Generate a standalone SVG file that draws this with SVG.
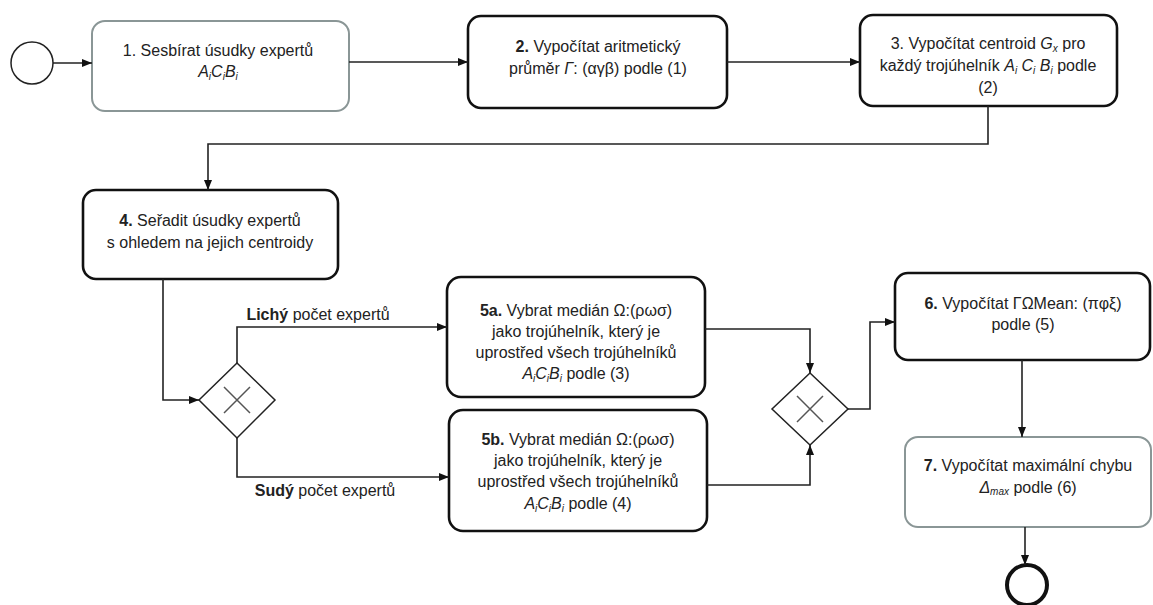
<svg xmlns="http://www.w3.org/2000/svg" width="1153" height="605" viewBox="0 0 1153 605">
<style>
.box{fill:#fff;stroke:#111;stroke-width:2.6}
.gbox{fill:#fff;stroke:#8a9696;stroke-width:2}
.gw{fill:#fff;stroke:#222;stroke-width:1.5}
.gx{stroke:#555;stroke-width:1.5}
.con{fill:none;stroke:#222;stroke-width:1.6}
text{font-family:"Liberation Sans",Arial,sans-serif;font-size:16px;fill:#222;text-anchor:middle}
.b{font-weight:bold}
.i{font-style:italic}
.s{font-size:10px;font-style:italic}
</style>
<defs>
<marker id="arr" markerWidth="10" markerHeight="8" refX="10" refY="4" orient="auto" markerUnits="userSpaceOnUse">
<path d="M0,0 L10,4 L0,8 Z" fill="#111"/>
</marker>
</defs>
<rect width="1153" height="605" fill="#fff"/>
<g id="start"><circle cx="32" cy="63" r="21" fill="#fff" stroke="#222" stroke-width="1.5"/></g>
<g id="n1"><rect class="gbox" x="92" y="21" width="257" height="90" rx="13"/>
<text x="218" y="56">1. Sesbírat úsudky expertů</text>
<text x="218" y="77"><tspan class="i">A</tspan><tspan class="s" dy="3">i</tspan><tspan class="i" dy="-3">C</tspan><tspan class="s" dy="3">i</tspan><tspan class="i" dy="-3">B</tspan><tspan class="s" dy="3">i</tspan></text></g>
<g id="n2"><rect class="box" x="468" y="16" width="259" height="92" rx="13"/>
<text x="598" y="52"><tspan class="b">2.</tspan> Vypočítat aritmetický</text>
<text x="598" y="74">průměr <tspan class="i">Γ</tspan>: (αγβ) podle (1)</text></g>
<g id="n3"><rect class="box" x="860" y="15" width="257" height="91" rx="13"/>
<text x="988" y="49">3. Vypočítat centroid <tspan class="i">G</tspan><tspan class="s" dy="3">x</tspan><tspan dy="-3"> pro</tspan></text>
<text x="988" y="71">každý trojúhelník <tspan class="i">A</tspan><tspan class="s" dy="3">i</tspan><tspan class="i" dy="-3"> C</tspan><tspan class="s" dy="3">i</tspan><tspan class="i" dy="-3"> B</tspan><tspan class="s" dy="3">i</tspan><tspan dy="-3"> podle</tspan></text>
<text x="988" y="93">(2)</text></g>
<g id="n4"><rect class="box" x="83" y="190" width="255" height="89" rx="13"/>
<text x="210" y="226"><tspan class="b">4.</tspan> Seřadit úsudky expertů</text>
<text x="210" y="248">s ohledem na jejich centroidy</text></g>
<g id="gw1"><path class="gw" d="M237,363 L275,400 L237,438 L199,400 Z"/>
<path class="gx" d="M224,387 L250,413 M250,387 L224,413"/></g>
<g id="n5a"><rect class="box" x="447" y="277" width="258" height="120" rx="14"/>
<text x="576" y="316"><tspan class="b">5a.</tspan> Vybrat medián Ω:(ρωσ)</text>
<text x="576" y="337">jako trojúhelník, který je</text>
<text x="576" y="358">uprostřed všech trojúhelníků</text>
<text x="576" y="379"><tspan class="i">A</tspan><tspan class="s" dy="3">i</tspan><tspan class="i" dy="-3">C</tspan><tspan class="s" dy="3">i</tspan><tspan class="i" dy="-3">B</tspan><tspan class="s" dy="3">i</tspan><tspan dy="-3">  podle (3)</tspan></text></g>
<g id="n5b"><rect class="box" x="449" y="410" width="258" height="121" rx="14"/>
<text x="578" y="445"><tspan class="b">5b.</tspan> Vybrat medián Ω:(ρωσ)</text>
<text x="578" y="466">jako trojúhelník, který je</text>
<text x="578" y="487">uprostřed všech trojúhelníků</text>
<text x="578" y="509"><tspan class="i">A</tspan><tspan class="s" dy="3">i</tspan><tspan class="i" dy="-3">C</tspan><tspan class="s" dy="3">i</tspan><tspan class="i" dy="-3">B</tspan><tspan class="s" dy="3">i</tspan><tspan dy="-3">  podle (4)</tspan></text></g>
<g id="gw2"><path class="gw" d="M810,373 L848,409 L810,445 L772,409 Z"/>
<path class="gx" d="M797,396 L823,422 M823,396 L797,422"/></g>
<g id="n6"><rect class="box" x="895" y="273" width="255" height="87" rx="13"/>
<text x="1023" y="309"><tspan class="b">6.</tspan> Vypočítat ΓΩMean: (πφξ)</text>
<text x="1023" y="330">podle (5)</text></g>
<g id="n7"><rect class="gbox" x="905" y="437" width="246" height="90" rx="13"/>
<text x="1028" y="471"><tspan class="b">7.</tspan> Vypočítat maximální chybu</text>
<text x="1028" y="493"><tspan class="i">Δ</tspan><tspan class="s" dy="2">max</tspan><tspan dy="-2"> podle (6)</tspan></text></g>
<g id="end"><circle cx="1027" cy="585" r="20" fill="#fff" stroke="#111" stroke-width="4"/></g>
<g id="connectors">
<path class="con" d="M53,63 H92" marker-end="url(#arr)"/>
<path class="con" d="M349,62 H468" marker-end="url(#arr)"/>
<path class="con" d="M727,62 H860" marker-end="url(#arr)"/>
<path class="con" d="M988,106 V144 H208 V190" marker-end="url(#arr)"/>
<path class="con" d="M163,279 V400 H199" marker-end="url(#arr)"/>
<path class="con" d="M237,363 V327 H447" marker-end="url(#arr)"/>
<path class="con" d="M237,438 V477 H449" marker-end="url(#arr)"/>
<path class="con" d="M705,329 H810 V373" marker-end="url(#arr)"/>
<path class="con" d="M707,485 H810 V445" marker-end="url(#arr)"/>
<path class="con" d="M848,409 H870 V322 H895" marker-end="url(#arr)"/>
<path class="con" d="M1022,360 V437" marker-end="url(#arr)"/>
<path class="con" d="M1025,527 V565" marker-end="url(#arr)"/>
<text x="318" y="320"><tspan class="b">Lichý</tspan> počet expertů</text>
<text x="325" y="496"><tspan class="b">Sudý</tspan> počet expertů</text>
</g>
</svg>
